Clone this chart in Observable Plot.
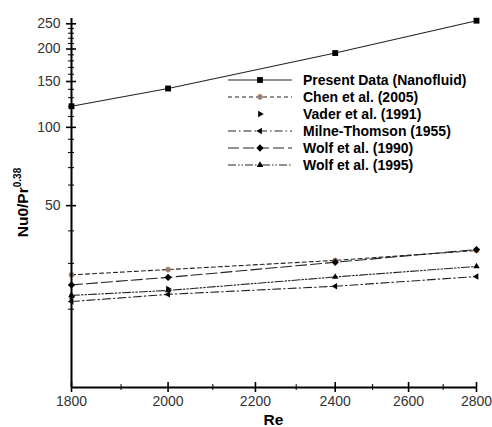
<!DOCTYPE html>
<html><head><meta charset="utf-8">
<script src="https://cdn.jsdelivr.net/npm/d3@7"></script>
<script src="https://cdn.jsdelivr.net/npm/@observablehq/plot@0.6"></script>
<style>body{margin:0;background:#fff} svg{display:block}</style>
</head><body><div id="chart"></div>
<script>
// ---- data ----
const re = [1800, 2000, 2400, 2800];
const presentData = [120.5, 141, 193, 257];
const chen2005 = [27.1, 28.4, 30.8, 33.6];
const vaderRe = [1800, 2000];
const vader1991 = [22.3, 23.9];
const milneThomson1955 = [21.4, 22.8, 24.5, 26.7];
const wolf1990 = [24.8, 26.5, 30.3, 33.9];
const wolf1995 = [22.6, 23.6, 26.6, 29.2];
const seriesNames = ["Present Data (Nanofluid)", "Chen et al. (2005)", "Vader et al. (1991)", "Milne-Thomson (1955)", "Wolf et al. (1990)", "Wolf et al. (1995)"];
const xMajorTicks = [1800, 2000, 2200, 2400, 2600, 2800];
const xMinorTicks = [1900, 2100, 2300, 2500, 2700];
const yMajorTicks = [50, 100, 150, 200, 250];
const yMinorTicks = [20, 30, 40, 60, 70, 80, 90, 110, 120, 130, 140, 160, 170, 180, 190, 210, 220, 230, 240];
const xLabel = "Re";
const yLabelMain = "Nu0/Pr";
const yLabelSup = "0.38";

// ---- symbols ----
function triangle(angleDeg) {
  return {draw(ctx, size) {
    const r = Math.sqrt(size / Math.PI) * 1.25;
    const a0 = angleDeg * Math.PI / 180;
    for (let i = 0; i < 3; i++) {
      const a = a0 + i * 2 * Math.PI / 3;
      const px = r * Math.cos(a), py = -r * Math.sin(a);
      if (i === 0) ctx.moveTo(px, py); else ctx.lineTo(px, py);
    }
    ctx.closePath();
  }};
}
const triUp = triangle(90), triLeft = triangle(180), triRight = triangle(0);

const series = [
  {name: seriesNames[0], x: re, y: presentData, dash: null, symbol: "square", r: 3.3, fill: "#000", stroke: "none", line: true},
  {name: seriesNames[1], x: re, y: chen2005, dash: "4,3", symbol: "circle", r: 2.4, fill: "#6b88a8", stroke: "#cf7b35", line: true},
  {name: seriesNames[2], x: vaderRe, y: vader1991, dash: null, symbol: triRight, r: 3, fill: "#000", stroke: "none", line: false},
  {name: seriesNames[3], x: re, y: milneThomson1955, dash: "8,3,1.5,3", symbol: triLeft, r: 3, fill: "#000", stroke: "none", line: true},
  {name: seriesNames[4], x: re, y: wolf1990, dash: "11,4", symbol: "diamond2", r: 3.3, fill: "#000", stroke: "none", line: true},
  {name: seriesNames[5], x: re, y: wolf1995, dash: "8,2,1.5,2,1.5,2", symbol: triUp, r: 3, fill: "#000", stroke: "none", line: true}
];

const W = 492, H = 427, mL = 71, mR = 16, mT = 18, mB = 40;
const plotW = W - mL - mR, plotH = H - mT - mB;

const marks = [];
for (const s of series) {
  const rows = s.x.map((x, i) => ({Re: x, v: s.y[i]}));
  if (s.line) marks.push(Plot.line(rows, {x: "Re", y: "v", stroke: "#222", strokeWidth: 1.1, strokeDasharray: s.dash}));
}
for (const s of series) {
  const rows = s.x.map((x, i) => ({Re: x, v: s.y[i]}));
  marks.push(Plot.dot(rows, {x: "Re", y: "v", symbol: () => s.symbol, r: s.r, fill: s.fill, stroke: s.stroke, strokeWidth: 1}));
}

const chart = Plot.plot({
  width: W, height: H,
  marginLeft: mL, marginRight: mR, marginTop: mT, marginBottom: mB,
  style: {fontFamily: "'Liberation Sans', Arial, sans-serif", fontSize: "14px", color: "#333", background: "#fff"},
  x: {type: "log", domain: [1800, 2800]},
  y: {type: "log", domain: [10, 262]},
  symbol: {type: "identity"},
  marks: [
    Plot.axisX({ticks: xMajorTicks, tickSize: 0, tickPadding: 9, tickFormat: d3.format("d"), label: null, fill: "#333"}),
    Plot.axisY({ticks: yMajorTicks, tickSize: 0, tickPadding: 11, tickFormat: d3.format("d"), label: null, fill: "#333"}),
    ...marks,
    Plot.ruleX(xMajorTicks, {insetTop: plotH - 5, insetBottom: -5, stroke: "#000", strokeWidth: 1.6}),
    Plot.ruleX(xMinorTicks, {insetTop: plotH - 3, insetBottom: -3, stroke: "#000", strokeWidth: 1}),
    Plot.ruleY(yMajorTicks, {insetLeft: -5, insetRight: plotW - 5, stroke: "#000", strokeWidth: 1.6}),
    Plot.ruleY(yMinorTicks, {insetLeft: -3, insetRight: plotW - 3, stroke: "#000", strokeWidth: 1}),
    Plot.ruleX([1800], {stroke: "#000", strokeWidth: 2}),
    Plot.ruleY([10], {stroke: "#000", strokeWidth: 2})
  ]
});
document.getElementById("chart").appendChild(chart);

const svg = d3.select(chart);
// axis titles
svg.append("text").attr("x", mL + plotW / 2).attr("y", H - 2).attr("text-anchor", "middle")
  .attr("font-weight", "bold").attr("font-size", 15.5).attr("fill", "#000").text(xLabel);
const yt = svg.append("text").attr("transform", `translate(28,${mT + plotH / 2}) rotate(-90)`)
  .attr("text-anchor", "middle").attr("font-weight", "bold").attr("font-size", 15.5).attr("fill", "#000");
yt.append("tspan").text(yLabelMain);
yt.append("tspan").attr("dy", -7).attr("font-size", 10).text(yLabelSup);

// legend
const lg = svg.append("g").attr("transform", "translate(228,80)");
const lineLen = 64, rowH = 17;
series.forEach((s, i) => {
  const g = lg.append("g").attr("transform", `translate(0,${i * rowH})`);
  if (s.line) g.append("line").attr("x1", 0).attr("x2", lineLen).attr("y1", 0).attr("y2", 0)
    .attr("stroke", "#222").attr("stroke-width", 1.1).attr("stroke-dasharray", s.dash);
  const sym = typeof s.symbol === "string" ? ({square: d3.symbolSquare, circle: d3.symbolCircle, diamond2: d3.symbolDiamond2})[s.symbol] : s.symbol;
  g.append("path").attr("transform", `translate(${lineLen / 2},0)`)
    .attr("d", d3.symbol(sym, s.r * s.r * Math.PI)()).attr("fill", s.fill).attr("stroke", s.stroke);
  g.append("text").attr("x", 75).attr("y", 5).attr("text-anchor", "start").attr("font-weight", "bold").attr("font-size", 14)
    .attr("fill", "#000").text(s.name);
});
</script>
</body></html>
